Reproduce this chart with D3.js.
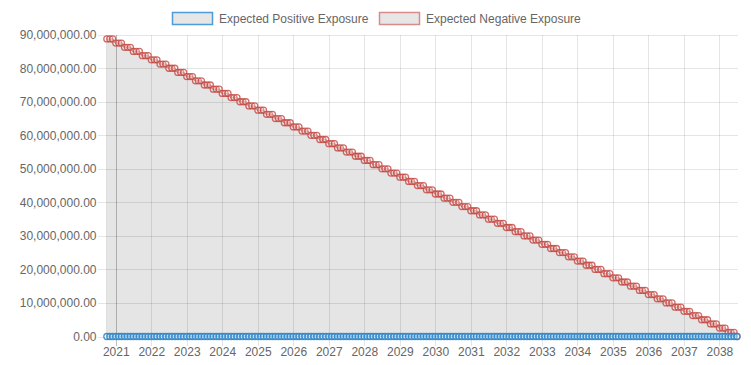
<!DOCTYPE html>
<html>
<head>
<meta charset="utf-8">
<script src="https://cdn.jsdelivr.net/npm/d3@7"></script>
<style>
  html, body { margin: 0; padding: 0; background: #fff; }
  svg { display: block; font-family: "Liberation Sans", Arial, Helvetica, sans-serif; }
</style>
</head>
<body>
<svg id="chart" width="751" height="365"></svg>
<script>
// ---------- DATA ----------
const seriesNames = ["Expected Positive Exposure", "Expected Negative Exposure"];

const months = [
  "2020-10","2020-11","2020-12",
  "2021-01","2021-02","2021-03","2021-04","2021-05","2021-06","2021-07","2021-08","2021-09","2021-10","2021-11","2021-12",
  "2022-01","2022-02","2022-03","2022-04","2022-05","2022-06","2022-07","2022-08","2022-09","2022-10","2022-11","2022-12",
  "2023-01","2023-02","2023-03","2023-04","2023-05","2023-06","2023-07","2023-08","2023-09","2023-10","2023-11","2023-12",
  "2024-01","2024-02","2024-03","2024-04","2024-05","2024-06","2024-07","2024-08","2024-09","2024-10","2024-11","2024-12",
  "2025-01","2025-02","2025-03","2025-04","2025-05","2025-06","2025-07","2025-08","2025-09","2025-10","2025-11","2025-12",
  "2026-01","2026-02","2026-03","2026-04","2026-05","2026-06","2026-07","2026-08","2026-09","2026-10","2026-11","2026-12",
  "2027-01","2027-02","2027-03","2027-04","2027-05","2027-06","2027-07","2027-08","2027-09","2027-10","2027-11","2027-12",
  "2028-01","2028-02","2028-03","2028-04","2028-05","2028-06","2028-07","2028-08","2028-09","2028-10","2028-11","2028-12",
  "2029-01","2029-02","2029-03","2029-04","2029-05","2029-06","2029-07","2029-08","2029-09","2029-10","2029-11","2029-12",
  "2030-01","2030-02","2030-03","2030-04","2030-05","2030-06","2030-07","2030-08","2030-09","2030-10","2030-11","2030-12",
  "2031-01","2031-02","2031-03","2031-04","2031-05","2031-06","2031-07","2031-08","2031-09","2031-10","2031-11","2031-12",
  "2032-01","2032-02","2032-03","2032-04","2032-05","2032-06","2032-07","2032-08","2032-09","2032-10","2032-11","2032-12",
  "2033-01","2033-02","2033-03","2033-04","2033-05","2033-06","2033-07","2033-08","2033-09","2033-10","2033-11","2033-12",
  "2034-01","2034-02","2034-03","2034-04","2034-05","2034-06","2034-07","2034-08","2034-09","2034-10","2034-11","2034-12",
  "2035-01","2035-02","2035-03","2035-04","2035-05","2035-06","2035-07","2035-08","2035-09","2035-10","2035-11","2035-12",
  "2036-01","2036-02","2036-03","2036-04","2036-05","2036-06","2036-07","2036-08","2036-09","2036-10","2036-11","2036-12",
  "2037-01","2037-02","2037-03","2037-04","2037-05","2037-06","2037-07","2037-08","2037-09","2037-10","2037-11","2037-12",
  "2038-01","2038-02","2038-03","2038-04","2038-05","2038-06","2038-07"
];

const expectedPositive = [
  0,0,0,
  0,0,0,0,0,0,0,0,0,0,0,0,
  0,0,0,0,0,0,0,0,0,0,0,0,
  0,0,0,0,0,0,0,0,0,0,0,0,
  0,0,0,0,0,0,0,0,0,0,0,0,
  0,0,0,0,0,0,0,0,0,0,0,0,
  0,0,0,0,0,0,0,0,0,0,0,0,
  0,0,0,0,0,0,0,0,0,0,0,0,
  0,0,0,0,0,0,0,0,0,0,0,0,
  0,0,0,0,0,0,0,0,0,0,0,0,
  0,0,0,0,0,0,0,0,0,0,0,0,
  0,0,0,0,0,0,0,0,0,0,0,0,
  0,0,0,0,0,0,0,0,0,0,0,0,
  0,0,0,0,0,0,0,0,0,0,0,0,
  0,0,0,0,0,0,0,0,0,0,0,0,
  0,0,0,0,0,0,0,0,0,0,0,0,
  0,0,0,0,0,0,0,0,0,0,0,0,
  0,0,0,0,0,0,0,0,0,0,0,0,
  0,0,0,0,0,0,0
];

const expectedNegative = [
  88750000,88750000,88750000,
  87500000,87500000,87500000,86250000,86250000,86250000,85000000,85000000,85000000,83750000,83750000,83750000,
  82500000,82500000,82500000,81250000,81250000,81250000,80000000,80000000,80000000,78750000,78750000,78750000,
  77500000,77500000,77500000,76250000,76250000,76250000,75000000,75000000,75000000,73750000,73750000,73750000,
  72500000,72500000,72500000,71250000,71250000,71250000,70000000,70000000,70000000,68750000,68750000,68750000,
  67500000,67500000,67500000,66250000,66250000,66250000,65000000,65000000,65000000,63750000,63750000,63750000,
  62500000,62500000,62500000,61250000,61250000,61250000,60000000,60000000,60000000,58750000,58750000,58750000,
  57500000,57500000,57500000,56250000,56250000,56250000,55000000,55000000,55000000,53750000,53750000,53750000,
  52500000,52500000,52500000,51250000,51250000,51250000,50000000,50000000,50000000,48750000,48750000,48750000,
  47500000,47500000,47500000,46250000,46250000,46250000,45000000,45000000,45000000,43750000,43750000,43750000,
  42500000,42500000,42500000,41250000,41250000,41250000,40000000,40000000,40000000,38750000,38750000,38750000,
  37500000,37500000,37500000,36250000,36250000,36250000,35000000,35000000,35000000,33750000,33750000,33750000,
  32500000,32500000,32500000,31250000,31250000,31250000,30000000,30000000,30000000,28750000,28750000,28750000,
  27500000,27500000,27500000,26250000,26250000,26250000,25000000,25000000,25000000,23750000,23750000,23750000,
  22500000,22500000,22500000,21250000,21250000,21250000,20000000,20000000,20000000,18750000,18750000,18750000,
  17500000,17500000,17500000,16250000,16250000,16250000,15000000,15000000,15000000,13750000,13750000,13750000,
  12500000,12500000,12500000,11250000,11250000,11250000,10000000,10000000,10000000,8750000,8750000,8750000,
  7500000,7500000,7500000,6250000,6250000,6250000,5000000,5000000,5000000,3750000,3750000,3750000,
  2500000,2500000,2500000,1250000,1250000,1250000,0
];

const yTickValues = [0,10000000,20000000,30000000,40000000,50000000,60000000,70000000,80000000,90000000];
const xTickYears = ["2021","2022","2023","2024","2025","2026","2027","2028","2029","2030","2031","2032","2033","2034","2035","2036","2037","2038"];

// ---------- CHART ----------
const svg = d3.select("#chart");
const parseMonth = d3.timeParse("%Y-%m");
const parseYear = d3.timeParse("%Y");
const dates = months.map(parseMonth);

const plotL = 106.8, plotR = 737, gridR = 738;
const plotT = 34.7, plotB = 336.5;
const textColor = "#666";
const gridColor = "rgba(0,0,0,0.1)";

const x = d3.scaleTime().domain(d3.extent(dates)).range([plotL, plotR]);
const y = d3.scaleLinear().domain([0, 90000000]).range([plotB, plotT]);

// Y axis + horizontal grid
const yAxis = d3.axisLeft(y)
  .tickValues(yTickValues)
  .tickFormat(d3.format(",.2f"))
  .tickSizeInner(-(gridR - 98))
  .tickSizeOuter(0)
  .tickPadding(1.5);
const gy = svg.append("g").attr("transform", "translate(98,0)").call(yAxis);
gy.select(".domain").remove();
gy.selectAll(".tick line").attr("stroke", gridColor).attr("shape-rendering", "crispEdges");
gy.selectAll(".tick text").attr("fill", textColor).attr("font-size", 12)
  .attr("font-family", "'Liberation Sans', Arial, sans-serif");

// X axis + vertical grid
const xTicks = xTickYears.map(parseYear);
const xAxis = d3.axisBottom(x)
  .tickValues(xTicks)
  .tickFormat(d3.timeFormat("%Y"))
  .tickSizeInner(346 - plotT)
  .tickSizeOuter(0)
  .tickPadding(2);
const gx = svg.append("g").attr("transform", `translate(0,${plotT})`).call(xAxis);
gx.select(".domain").remove();
gx.selectAll(".tick line")
  .attr("stroke", (d, i) => i === 0 ? "rgba(0,0,0,0.25)" : gridColor)
  .attr("shape-rendering", "crispEdges");
gx.selectAll(".tick text").attr("fill", textColor).attr("font-size", 12)
  .attr("font-family", "'Liberation Sans', Arial, sans-serif")
  .attr("dy", null).attr("y", 356.5 - plotT);

// plot border (left edge)
svg.append("line").attr("x1", plotL).attr("x2", plotL).attr("y1", plotT).attr("y2", plotB)
  .attr("stroke", gridColor).attr("shape-rendering", "crispEdges");

// series
const series = [
  { name: seriesNames[0], values: expectedPositive, stroke: "rgba(40,130,200,0.85)", legend: "#4d9bd8" },
  { name: seriesNames[1], values: expectedNegative, stroke: "rgba(192,62,56,0.75)", legend: "#d98b8b" }
];

const area = d3.area().x(d => x(d.date)).y0(y(0)).y1(d => y(d.v)).curve(d3.curveMonotoneX);
const line = d3.line().x(d => x(d.date)).y(d => y(d.v)).curve(d3.curveMonotoneX);

// draw last dataset first (so first is on top)
for (let s = series.length - 1; s >= 0; s--) {
  const S = series[s];
  const pts = dates.map((dt, i) => ({ date: dt, v: S.values[i] }));
  const g = svg.append("g");
  g.append("path").datum(pts).attr("d", area).attr("fill", "rgba(0,0,0,0.1)");
  g.append("path").datum(pts).attr("d", line).attr("fill", "none")
    .attr("stroke", S.stroke).attr("stroke-width", 1.5);
  g.selectAll("circle").data(pts).enter().append("circle")
    .attr("cx", d => x(d.date)).attr("cy", d => y(d.v)).attr("r", 3)
    .attr("fill", "rgba(255,255,255,0.3)")
    .attr("stroke", S.stroke).attr("stroke-width", 1.3);
}

// legend
const legendItems = [
  { x: 172.5, textX: 219, s: series[0] },
  { x: 379.5, textX: 426, s: series[1] }
];
const lg = svg.append("g");
legendItems.forEach(it => {
  lg.append("rect").attr("x", it.x).attr("y", 12.5).attr("width", 40).attr("height", 12)
    .attr("fill", "#e6e6e6").attr("stroke", it.s.legend).attr("stroke-width", 1.5);
  lg.append("text").attr("x", it.textX).attr("y", 22.5).attr("fill", textColor)
    .attr("font-size", 12).text(it.s.name);
});
</script>
</body>
</html>
